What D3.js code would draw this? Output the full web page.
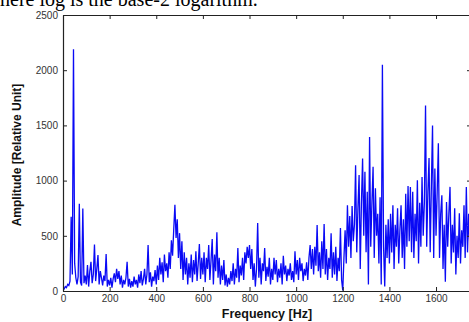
<!DOCTYPE html>
<html>
<head>
<meta charset="utf-8">
<script src="https://cdn.jsdelivr.net/npm/d3@7"></script>
<style>
  body { margin: 0; background: #fff; }
  svg { display: block; }
</style>
</head>
<body>
<div id="chart"></div>
<script>
// sampled spectrum, one value every 5 Hz starting at 0 Hz
const freqStep = 5;
const amplitude = [
  5, 20, 40, 30, 60, 50, 90, 672, 150, 2190, 250, 120, 60, 130, 790, 80, 50, 747, 70, 140,
  60, 235, 40, 180, 265, 70, 150, 422, 90, 200, 325, 60, 180, 120, 50, 140, 90, 334, 40, 100,
  50, 120, 30, 110, 160, 80, 200, 110, 180, 60, 140, 30, 100, 60, 120, 265, 40, 110, 30, 90,
  40, 130, 60, 100, 30, 150, 70, 180, 50, 110, 200, 60, 150, 416, 80, 170, 40, 130, 90, 190,
  60, 230, 100, 300, 150, 260, 80, 330, 180, 250, 120, 350, 200, 460, 320, 560, 780, 480, 650, 300,
  524, 200, 450, 100, 350, 150, 300, 60, 250, 120, 330, 80, 280, 150, 360, 90, 250, 425, 110, 300,
  150, 350, 80, 300, 200, 416, 100, 280, 470, 60, 330, 180, 533, 120, 300, 60, 230, 100, 280, 50,
  150, 40, 120, 60, 180, 90, 250, 60, 200, 120, 389, 80, 230, 140, 300, 100, 350, 250, 400, 300,
  416, 200, 380, 100, 250, 40, 200, 615, 120, 300, 60, 250, 180, 390, 90, 220, 130, 300, 60, 200,
  100, 300, 150, 280, 80, 200, 120, 250, 60, 320, 150, 230, 90, 200, 140, 250, 100, 180, 80, 360,
  150, 280, 100, 300, 180, 250, 90, 200, 140, 260, 100, 300, 416, 200, 380, 150, 400, 230, 597, 180,
  350, 120, 450, 200, 606, 150, 380, 100, 300, 200, 524, 120, 350, 150, 400, 90, 300, 180, 570, 100,
  5, 300, 550, 250, 777, 400, 680, 300, 770, 450, 600, 1140, 350, 750, 1050, 200, 800, 1200, 500, 1080,
  350, 900, 60, 1395, 400, 800, 1125, 300, 930, 500, 700, 250, 850, 60, 2050, 400, 40, 600, 300, 650,
  250, 700, 350, 777, 200, 600, 400, 750, 250, 550, 777, 300, 650, 200, 880, 400, 950, 450, 943, 350,
  898, 300, 700, 450, 1003, 250, 800, 400, 1033, 500, 800, 1681, 400, 900, 1205, 350, 950, 1500, 300, 1110,
  500, 900, 1338, 300, 700, 868, 200, 600, 85, 807, 400, 700, 943, 250, 600, 350, 750, 150, 500, 300,
  705, 250, 550, 400, 777, 300, 943, 350, 700, 400, 600
];
const xTicks = [0, 200, 400, 600, 800, 1000, 1200, 1400, 1600];
const yTicks = [0, 500, 1000, 1500, 2000, 2500];

const W = 469, H = 322;
const mLeft = 63, mRight = 471, mTop = 15, mBottom = 291;

const svg = d3.select("#chart").append("svg")
  .attr("width", W)
  .attr("height", H);

// caption line of the page above the figure, cut at the top
svg.append("text")
  .attr("x", 0)
  .attr("y", 6)
  .style("font-family", "'Liberation Serif', 'Times New Roman', serif")
  .style("font-size", "20px")
  .style("fill", "#000")
  .text("here log is the base-2 logarithm.");

const x = d3.scaleLinear().domain([0, 1750]).range([mLeft, mRight]);
const y = d3.scaleLinear().domain([0, 2500]).range([mBottom, mTop]);

const data = amplitude.map((v, i) => ({ f: i * freqStep, a: v }));

svg.append("defs").append("clipPath").attr("id", "plotclip")
  .append("rect")
  .attr("x", mLeft).attr("y", mTop)
  .attr("width", mRight - mLeft).attr("height", mBottom - mTop);

const line = d3.line()
  .x(d => x(d.f))
  .y(d => y(d.a));

svg.append("path")
  .datum(data)
  .attr("clip-path", "url(#plotclip)")
  .attr("fill", "none")
  .attr("stroke", "#0a0af5")
  .attr("stroke-width", 1.3)
  .attr("stroke-linejoin", "miter")
  .attr("d", line);

// matlab style box, ticks pointing inward
const tickFont = "Arial, 'Liberation Sans', sans-serif";
const fmt = d3.format("d");

const xb = svg.append("g")
  .attr("transform", "translate(0," + mBottom + ")")
  .call(d3.axisBottom(x).tickValues(xTicks).tickFormat(fmt).tickSizeInner(-4).tickSizeOuter(0).tickPadding(4));
const xt = svg.append("g")
  .attr("transform", "translate(0," + mTop + ")")
  .call(d3.axisTop(x).tickValues(xTicks).tickSizeInner(-4).tickSizeOuter(0).tickFormat(""));
const yl = svg.append("g")
  .attr("transform", "translate(" + mLeft + ",0)")
  .call(d3.axisLeft(y).tickValues(yTicks).tickFormat(fmt).tickSizeInner(-4).tickSizeOuter(0).tickPadding(5));
const yr = svg.append("g")
  .attr("transform", "translate(" + mRight + ",0)")
  .call(d3.axisRight(y).tickValues(yTicks).tickSizeInner(-4).tickSizeOuter(0).tickFormat(""));

[xb, xt, yl, yr].forEach(g => {
  g.select(".domain").attr("stroke", "#222").attr("stroke-width", 1.2);
  g.selectAll(".tick line").attr("stroke", "#222");
  g.selectAll("text")
    .attr("fill", "#333")
    .style("font-family", tickFont)
    .style("font-size", "10px");
});

svg.append("text")
  .attr("x", (mLeft + mRight) / 2)
  .attr("y", 318)
  .attr("text-anchor", "middle")
  .style("font-family", tickFont)
  .style("font-size", "12.5px")
  .style("font-weight", "bold")
  .style("fill", "#111")
  .text("Frequency [Hz]");

svg.append("text")
  .attr("transform", "translate(21," + 155 + ") rotate(-90)")
  .attr("text-anchor", "middle")
  .style("font-family", tickFont)
  .style("font-size", "12px")
  .style("font-weight", "bold")
  .style("fill", "#111")
  .text("Amplitude [Relative Unit]");
</script>
</body>
</html>
